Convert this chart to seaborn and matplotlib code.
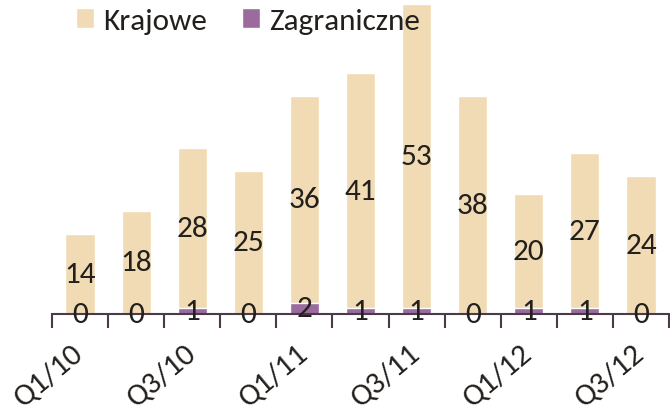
import matplotlib
matplotlib.use("Agg")
import matplotlib.pyplot as plt
import seaborn as sns
import pandas as pd
import numpy as np
from matplotlib.patches import Patch

categories = ["Q1/10", "Q2/10", "Q3/10", "Q4/10", "Q1/11", "Q2/11",
              "Q3/11", "Q4/11", "Q1/12", "Q2/12", "Q3/12"]
krajowe = [14, 18, 28, 25, 36, 41, 53, 38, 20, 27, 24]
zagraniczne = [0, 0, 1, 0, 2, 1, 1, 0, 1, 1, 0]
shown_ticks = ["Q1/10", "Q3/10", "Q1/11", "Q3/11", "Q1/12", "Q3/12"]

C_KRAJ = "#F0DBB4"
C_ZAGR = "#9A6B9C"
TXT = "#221f1c"

sns.set_theme(style="white")
plt.rcParams["font.family"] = ["Carlito", "DejaVu Sans"]

df = pd.DataFrame({"kat": categories, "kraj": krajowe, "zagr": zagraniczne})
df["total"] = df["kraj"] + df["zagr"]

fig = plt.figure(figsize=(6.7, 4.1), dpi=100)
ax = fig.add_axes([52 / 670, 1 - 315 / 410, (669 - 52) / 670, 315 / 410])

sns.barplot(data=df, x="kat", y="total", order=categories, color=C_KRAJ,
            saturation=1, width=0.52, ax=ax)
sns.barplot(data=df, x="kat", y="zagr", order=categories, color=C_ZAGR,
            saturation=1, width=0.52, ax=ax)

FS = 22.5
for i, (k, z) in enumerate(zip(krajowe, zagraniczne)):
    ax.text(i, z + k / 2, str(k), ha="center", va="center", fontsize=FS, color=TXT)
    ax.text(i, z / 2, str(z), ha="center", va="center", fontsize=FS, color=TXT)

ax.set_xlim(-0.5, len(categories) - 0.5)
ax.set_ylim(0, 54.9)
ax.set_xlabel("")
ax.set_ylabel("")
ax.set_yticks([])

pos = [categories.index(c) for c in shown_ticks]
ax.set_xticks(pos)
ax.set_xticklabels(shown_ticks, rotation=40, ha="right", va="center",
                   rotation_mode="anchor", fontsize=FS, color=TXT)
ax.tick_params(axis="x", which="major", length=0, pad=25)
ax.set_xticks(np.arange(-0.5, len(categories), 1.0), minor=True)
ax.tick_params(axis="x", which="minor", length=10, width=1.5, color="#4a3a4a",
               direction="out", bottom=True)

for s in ["left", "top", "right"]:
    ax.spines[s].set_visible(False)
ax.spines["bottom"].set_color("#4a3a4a")
ax.spines["bottom"].set_linewidth(1.5)

handles = [Patch(facecolor=C_KRAJ, label="Krajowe"),
           Patch(facecolor=C_ZAGR, label="Zagraniczne")]
leg = fig.legend(handles=handles, loc="center left", bbox_to_anchor=(76 / 670, 1 - 22 / 410),
                 ncol=2, frameon=False, fontsize=FS, handlelength=0.58, handleheight=0.58,
                 handletextpad=0.3, columnspacing=1.1, borderaxespad=0, borderpad=0)
for t in leg.get_texts():
    t.set_color(TXT)

fig.savefig("out.png", dpi=100)
